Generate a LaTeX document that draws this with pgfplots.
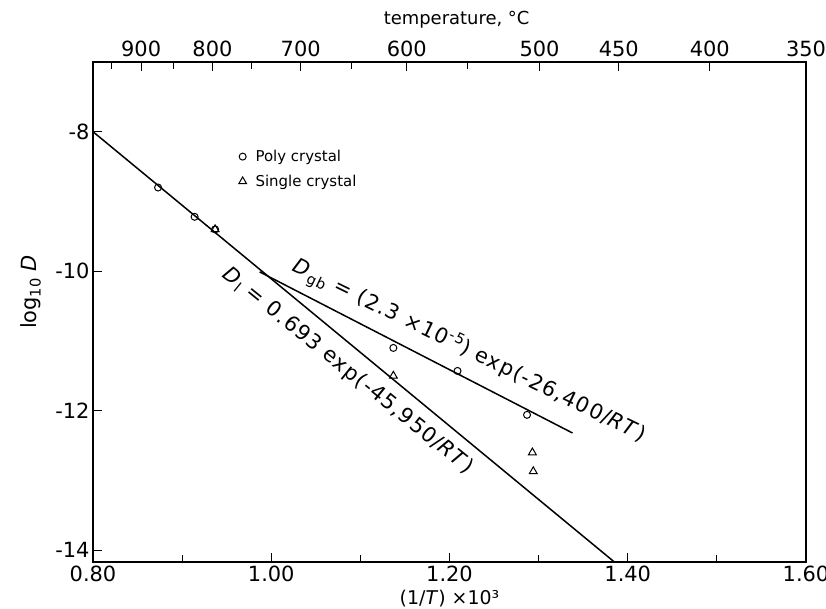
\documentclass[border=0pt]{standalone}
\usepackage{pgfplots}
\pgfplotsset{compat=1.18}
\usepackage{fontspec}
\setmainfont{DejaVu Sans}
\newfontfamily\annfont[LetterSpace=6]{DejaVu Sans}
\usetikzlibrary{calc}

\pgfplotstableread{
x y
0.873 -8.80
0.914 -9.22
0.937 -9.40
1.137 -11.10
1.209 -11.43
1.287 -12.06
}\poly

\pgfplotstableread{
x y
0.937 -9.40
1.137 -11.50
1.293 -12.60
1.294 -12.87
}\single

\begin{document}
\begin{tikzpicture}
\begin{axis}[
    name=main,
    scale only axis,
    width=713bp, height=500bp,
    xmin=0.8, xmax=1.6,
    ymin=-14.17, ymax=-7.0,
    xtick={0.8,1.0,1.2,1.4,1.6},
    minor xtick={0.9,1.1,1.3,1.5},
    ytick={-8,-10,-12,-14},
    xtick pos=lower, ytick pos=left,
    tick align=inside,
    major tick length=9bp, minor tick length=7bp,
    every tick/.style={black, line width=1bp},
    axis line style={line width=1.2bp},
    font=\fontsize{21}{25}\selectfont,
    /pgf/number format/assume math mode=true,
    xticklabel style={/pgf/number format/.cd, fixed, fixed zerofill, precision=2},
    yticklabel style={/pgf/number format/.cd, fixed, precision=0},
    xlabel={(1/\textit{T}) ×10³},
    xlabel style={at={(rel axis cs:0.5,0)}, anchor=center, yshift=-37bp, font=\fontsize{19}{22}\selectfont},
    ylabel={log\textsubscript{10} \textit{D}},
    ylabel style={at={(rel axis cs:0,0.54)}, anchor=center, yshift=62bp},
    legend style={draw=none, fill=none, at={(rel axis cs:0.2,0.832)}, anchor=north west,
        font=\fontsize{15}{18}\selectfont, row sep=8bp, column sep=7bp},
    legend cell align=left,
    clip=false,
]
\addplot[only marks, mark=o, mark size=3.5bp, black, line width=1bp] table {\poly};
\addlegendentry{Poly crystal}
\addplot[only marks, mark=triangle, mark size=4.5bp, black, line width=1bp] table {\single};
\addlegendentry{Single crystal}
\addplot[black, line width=1.5bp, forget plot] coordinates {(0.80,-8.00) (1.385,-14.17)};
\addplot[black, line width=1.5bp, forget plot] coordinates {(0.987,-10.01) (1.338,-12.32)};
\node[rotate=-26, font=\annfont\fontsize{21}{24}\selectfont] at (axis cs:1.222,-11.15)
    {\textit{D}\textsubscript{gb} = (2.3 ×10\textsuperscript{-5}) exp(-26,400/\textit{RT})};
\node[rotate=-39, font=\annfont\fontsize{21}{24}\selectfont] at (axis cs:1.086,-11.43)
    {\textit{D}\textsubscript{l} = 0.693 exp(-45,950/\textit{RT})};
\end{axis}
\begin{axis}[
    scale only axis,
    width=713bp, height=500bp,
    xmin=0.8, xmax=1.6, ymin=0, ymax=1,
    axis x line*=top, axis y line=none,
    xtick={0.854,0.934,1.033,1.152,1.301,1.390,1.492,1.600},
    xticklabels={900,800,700,600,500,450,400,350},
    minor xtick={0.821,0.890,0.978,1.090,1.220},
    tick align=inside,
    major tick length=9bp, minor tick length=7bp,
    every tick/.style={black, line width=1bp},
    axis line style={line width=1.2bp},
    font=\fontsize{21}{25}\selectfont,
    xticklabel style={yshift=2bp},
    xlabel={temperature, °C},
    xlabel style={at={(rel axis cs:0.51,1)}, anchor=center, yshift=42bp, font=\fontsize{18}{21}\selectfont},
]
\end{axis}
\pgfresetboundingbox
\path ($(main.south west)+(-93bp,-46bp)$) rectangle ($(main.north east)+(20bp,62bp)$);
\end{tikzpicture}
\end{document}
